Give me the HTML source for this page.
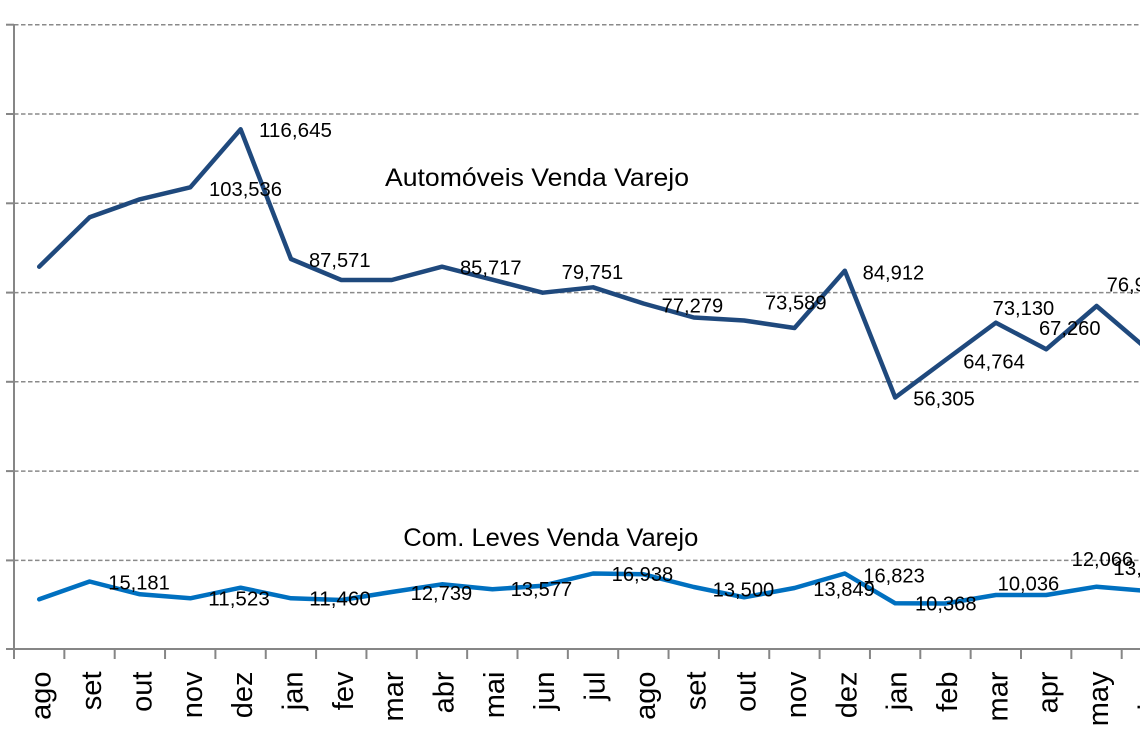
<!DOCTYPE html>
<html><head><meta charset="utf-8"><style>
html,body{margin:0;padding:0;background:#fff;}
svg{display:block;}
text{font-family:"Liberation Sans",Arial,sans-serif;fill:#000;}
</style></head><body>
<svg width="1140" height="742" viewBox="0 0 1140 742" xmlns="http://www.w3.org/2000/svg">
<rect width="1140" height="742" fill="#fff"/>
<g stroke="#8a8a8a" stroke-width="1.5" stroke-dasharray="4.5,2.5" fill="none">
<line x1="14" y1="24.7" x2="1140" y2="24.7"/>
<line x1="14" y1="114" x2="1140" y2="114"/>
<line x1="14" y1="203.3" x2="1140" y2="203.3"/>
<line x1="14" y1="292.6" x2="1140" y2="292.6"/>
<line x1="14" y1="381.8" x2="1140" y2="381.8"/>
<line x1="14" y1="471.1" x2="1140" y2="471.1"/>
<line x1="14" y1="560.4" x2="1140" y2="560.4"/>
</g>
<g stroke="#868686" stroke-width="2" fill="none">
<line x1="14" y1="24" x2="14" y2="659"/>
<line x1="13" y1="649" x2="1140" y2="649"/>
<line x1="6" y1="24.7" x2="14" y2="24.7"/>
<line x1="6" y1="114" x2="14" y2="114"/>
<line x1="6" y1="203.3" x2="14" y2="203.3"/>
<line x1="6" y1="292.6" x2="14" y2="292.6"/>
<line x1="6" y1="381.8" x2="14" y2="381.8"/>
<line x1="6" y1="471.1" x2="14" y2="471.1"/>
<line x1="6" y1="560.4" x2="14" y2="560.4"/>
<line x1="6" y1="649" x2="14" y2="649"/>
<line x1="64.35" y1="649" x2="64.35" y2="659"/>
<line x1="114.7" y1="649" x2="114.7" y2="659"/>
<line x1="165.05" y1="649" x2="165.05" y2="659"/>
<line x1="215.4" y1="649" x2="215.4" y2="659"/>
<line x1="265.75" y1="649" x2="265.75" y2="659"/>
<line x1="316.1" y1="649" x2="316.1" y2="659"/>
<line x1="366.45" y1="649" x2="366.45" y2="659"/>
<line x1="416.8" y1="649" x2="416.8" y2="659"/>
<line x1="467.15" y1="649" x2="467.15" y2="659"/>
<line x1="517.5" y1="649" x2="517.5" y2="659"/>
<line x1="567.85" y1="649" x2="567.85" y2="659"/>
<line x1="618.2" y1="649" x2="618.2" y2="659"/>
<line x1="668.55" y1="649" x2="668.55" y2="659"/>
<line x1="718.9" y1="649" x2="718.9" y2="659"/>
<line x1="769.25" y1="649" x2="769.25" y2="659"/>
<line x1="819.6" y1="649" x2="819.6" y2="659"/>
<line x1="869.95" y1="649" x2="869.95" y2="659"/>
<line x1="920.3" y1="649" x2="920.3" y2="659"/>
<line x1="970.65" y1="649" x2="970.65" y2="659"/>
<line x1="1021" y1="649" x2="1021" y2="659"/>
<line x1="1071.35" y1="649" x2="1071.35" y2="659"/>
<line x1="1121.7" y1="649" x2="1121.7" y2="659"/>
</g>
<polyline fill="none" stroke="#1F497D" stroke-width="4.5" stroke-linejoin="round" stroke-linecap="round" points="39.2,266.7 89.6,217.3 139.9,199.3 190.3,187.3 240.6,129.3 291,259 341.3,280 391.7,280 442,266.7 492.4,279.7 542.7,292.7 593.1,287.3 643.4,303.5 693.8,317.5 744.1,320.5 794.5,328 844.8,270.7 895.2,397.5 945.5,360 995.9,322.7 1046.2,349.3 1096.6,306 1146.9,349"/>
<polyline fill="none" stroke="#0070C0" stroke-width="4.5" stroke-linejoin="round" stroke-linecap="round" points="39.2,599.3 89.6,581.5 139.9,594.3 190.3,598.3 240.6,587.7 291,598.3 341.3,600 391.7,592 442,584.3 492.4,589.3 542.7,585.7 593.1,573.5 643.4,574.3 693.8,587 744.1,597.3 794.5,588 844.8,573.5 895.2,603.3 945.5,603.5 995.9,595 1046.2,595 1096.6,586.7 1146.9,591"/>
<g font-size="20">
<text x="259" y="137" textLength="73" lengthAdjust="spacingAndGlyphs">116,645</text>
<text x="209" y="196" textLength="73" lengthAdjust="spacingAndGlyphs">103,536</text>
<text x="309" y="267" textLength="61.5" lengthAdjust="spacingAndGlyphs">87,571</text>
<text x="460" y="274.3" textLength="61.5" lengthAdjust="spacingAndGlyphs">85,717</text>
<text x="561.7" y="279" textLength="61.5" lengthAdjust="spacingAndGlyphs">79,751</text>
<text x="661.7" y="312.7" textLength="61.5" lengthAdjust="spacingAndGlyphs">77,279</text>
<text x="765" y="309.3" textLength="61.5" lengthAdjust="spacingAndGlyphs">73,589</text>
<text x="862.7" y="279.3" textLength="61.5" lengthAdjust="spacingAndGlyphs">84,912</text>
<text x="913.3" y="405.7" textLength="61.5" lengthAdjust="spacingAndGlyphs">56,305</text>
<text x="963.3" y="368.3" textLength="61.5" lengthAdjust="spacingAndGlyphs">64,764</text>
<text x="992.7" y="315" textLength="61.5" lengthAdjust="spacingAndGlyphs">73,130</text>
<text x="1039" y="335" textLength="61.5" lengthAdjust="spacingAndGlyphs">67,260</text>
<text x="1106.7" y="291.7" textLength="61.5" lengthAdjust="spacingAndGlyphs">76,975</text>
<text x="108.3" y="589.3" textLength="61.5" lengthAdjust="spacingAndGlyphs">15,181</text>
<text x="208.3" y="605.7" textLength="61.5" lengthAdjust="spacingAndGlyphs">11,523</text>
<text x="309.3" y="605.7" textLength="61.5" lengthAdjust="spacingAndGlyphs">11,460</text>
<text x="410.7" y="600" textLength="61.5" lengthAdjust="spacingAndGlyphs">12,739</text>
<text x="510.7" y="596" textLength="61.5" lengthAdjust="spacingAndGlyphs">13,577</text>
<text x="611.7" y="581" textLength="61.5" lengthAdjust="spacingAndGlyphs">16,938</text>
<text x="712.7" y="596.7" textLength="61.5" lengthAdjust="spacingAndGlyphs">13,500</text>
<text x="813.3" y="596" textLength="61.5" lengthAdjust="spacingAndGlyphs">13,849</text>
<text x="863.3" y="582.7" textLength="61.5" lengthAdjust="spacingAndGlyphs">16,823</text>
<text x="915" y="610.7" textLength="61.5" lengthAdjust="spacingAndGlyphs">10,368</text>
<text x="997.7" y="590.7" textLength="61.5" lengthAdjust="spacingAndGlyphs">10,036</text>
<text x="1071.7" y="566" textLength="61.5" lengthAdjust="spacingAndGlyphs">12,066</text>
<text x="1113.3" y="575" textLength="61.5" lengthAdjust="spacingAndGlyphs">13,112</text>
</g>
<text x="385" y="186" font-size="25" textLength="304" lengthAdjust="spacingAndGlyphs">Automóveis Venda Varejo</text>
<text x="403.3" y="546" font-size="25" textLength="295" lengthAdjust="spacingAndGlyphs">Com. Leves Venda Varejo</text>
<g font-size="29" text-anchor="end">
<text transform="translate(50.7,671.5) rotate(-90)">ago</text>
<text transform="translate(101.1,671.5) rotate(-90)">set</text>
<text transform="translate(151.4,671.5) rotate(-90)">out</text>
<text transform="translate(201.8,671.5) rotate(-90)">nov</text>
<text transform="translate(252.1,671.5) rotate(-90)">dez</text>
<text transform="translate(302.5,671.5) rotate(-90)">jan</text>
<text transform="translate(352.8,671.5) rotate(-90)">fev</text>
<text transform="translate(403.2,671.5) rotate(-90)">mar</text>
<text transform="translate(453.5,671.5) rotate(-90)">abr</text>
<text transform="translate(503.9,671.5) rotate(-90)">mai</text>
<text transform="translate(554.2,671.5) rotate(-90)">jun</text>
<text transform="translate(604.6,671.5) rotate(-90)">jul</text>
<text transform="translate(654.9,671.5) rotate(-90)">ago</text>
<text transform="translate(705.3,671.5) rotate(-90)">set</text>
<text transform="translate(755.6,671.5) rotate(-90)">out</text>
<text transform="translate(806,671.5) rotate(-90)">nov</text>
<text transform="translate(856.3,671.5) rotate(-90)">dez</text>
<text transform="translate(906.7,671.5) rotate(-90)">jan</text>
<text transform="translate(957,671.5) rotate(-90)">feb</text>
<text transform="translate(1007.4,671.5) rotate(-90)">mar</text>
<text transform="translate(1057.7,671.5) rotate(-90)">apr</text>
<text transform="translate(1108.1,671.5) rotate(-90)">may</text>
<text transform="translate(1158.4,671.5) rotate(-90)">jun</text>
</g>
</svg>
</body></html>
